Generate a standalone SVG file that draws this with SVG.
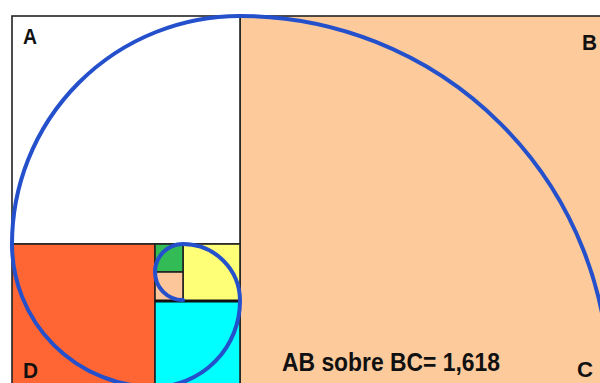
<svg xmlns="http://www.w3.org/2000/svg" width="600" height="383" viewBox="0 0 600 383">
<style>
.sq{stroke:#222;stroke-width:1.6}
.lbl{font-family:"Liberation Sans",Arial,sans-serif;font-weight:bold;fill:#111;font-size:22px}
.sp{fill:none;stroke:#2450cc;stroke-width:4;stroke-linecap:round}
</style>
<rect width="600" height="383" fill="#fff"/>
<g id="big-rect"><rect class="sq" x="240" y="16" width="372" height="372" fill="#fcca9b"/></g>
<g id="square-A"><rect class="sq" x="12" y="16" width="228" height="228" fill="#fff"/></g>
<g id="square-D"><rect class="sq" x="12" y="244" width="143" height="143" fill="#ff6633"/></g>
<g id="square-cyan"><rect class="sq" x="155" y="301" width="85" height="86" fill="#00ffff"/></g>
<g id="square-yellow"><rect class="sq" x="183" y="244" width="57" height="57" fill="#ffff77"/></g>
<g id="square-green"><rect class="sq" x="155" y="244" width="28" height="28" fill="#33bb55"/></g>
<g id="square-small"><rect class="sq" x="155" y="272" width="28" height="29" fill="#fcc59a"/></g>
<line x1="155" y1="301" x2="240" y2="301" stroke="#111" stroke-width="3"/>
<g id="spiral">
<path class="sp" d="M12,244 A228,228 0 0 1 240,16 A369,369 0 0 1 609,385"/>
<path class="sp" d="M12,244 A143,143 0 0 0 155,387 A86,86 0 0 0 240,301 A57,57 0 0 0 183,244 A28,28 0 0 0 155,272 A28,28 0 0 0 183,300"/>
</g>
<text class="lbl" x="23" y="44" textLength="14" lengthAdjust="spacingAndGlyphs">A</text>
<text class="lbl" x="582" y="50" textLength="15" lengthAdjust="spacingAndGlyphs">B</text>
<text class="lbl" x="577" y="377" textLength="16" lengthAdjust="spacingAndGlyphs">C</text>
<text class="lbl" x="23" y="378" textLength="15" lengthAdjust="spacingAndGlyphs">D</text>
<text class="lbl" x="282" y="371" style="font-size:25px" textLength="218" lengthAdjust="spacingAndGlyphs">AB sobre BC= 1,618</text>
</svg>
